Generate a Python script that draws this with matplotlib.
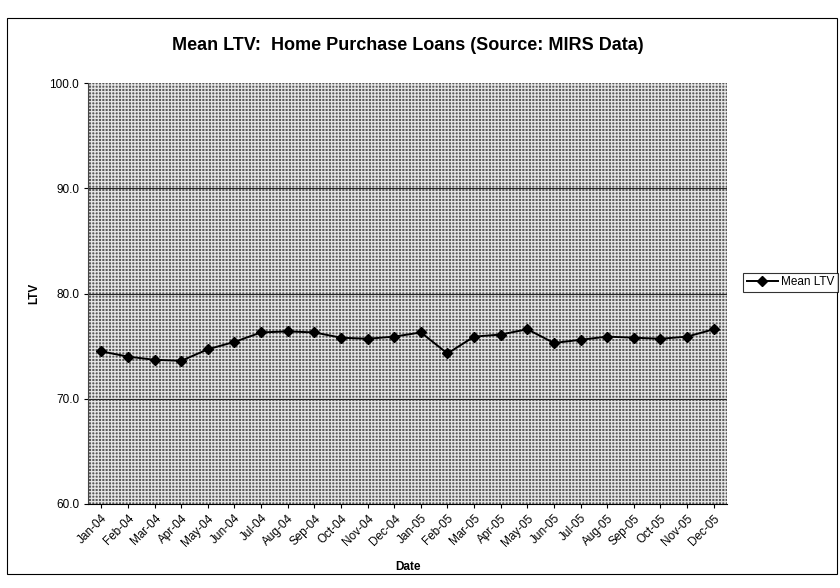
import matplotlib
matplotlib.use("Agg")
import matplotlib.pyplot as plt
from matplotlib.patches import Rectangle

plt.rcParams['font.family'] = ['Liberation Sans', 'DejaVu Sans']
plt.rcParams['hatch.linewidth'] = 0.9

months = ["Jan-04", "Feb-04", "Mar-04", "Apr-04", "May-04", "Jun-04", "Jul-04", "Aug-04",
          "Sep-04", "Oct-04", "Nov-04", "Dec-04", "Jan-05", "Feb-05", "Mar-05", "Apr-05",
          "May-05", "Jun-05", "Jul-05", "Aug-05", "Sep-05", "Oct-05", "Nov-05", "Dec-05"]
mean_ltv = [74.5, 74.0, 73.7, 73.6, 74.7, 75.4, 76.3, 76.4, 76.3, 75.8, 75.7, 75.9,
            76.3, 74.3, 75.9, 76.1, 76.6, 75.3, 75.6, 75.9, 75.8, 75.7, 75.9, 76.6]
y_ticks = [60.0, 70.0, 80.0, 90.0, 100.0]

fig = plt.figure(figsize=(8.4, 5.88), dpi=100)
fig.patch.set_facecolor('white')
ax = fig.add_axes([0.1048, 0.1429, 0.7607, 0.7159])

# plot area background (dithered gray look)
ax.set_facecolor('#5a5a5a')
bg = Rectangle((0, 0), 1, 1, transform=ax.transAxes, facecolor='none',
               edgecolor='#e6e6e6', hatch='+++++', linewidth=0, zorder=0)
ax.add_patch(bg)

x = list(range(len(months)))
ax.plot(x, mean_ltv, color='black', linewidth=1.4, marker='D', markersize=5,
        label='Mean LTV', zorder=3)

ax.set_xlim(-0.5, len(months) - 0.5)
ax.set_ylim(60, 100)
ax.set_yticks(y_ticks)
ax.set_yticklabels([f"{v:.1f}" for v in y_ticks], fontsize=8.5)
ax.set_xticks(x)
ax.set_xticklabels(months, rotation=45, ha='right', rotation_mode='anchor', fontsize=8.5)
ax.tick_params(axis='both', length=3, width=0.8, color='black')
ax.tick_params(axis='x', pad=3)

for v in y_ticks[1:-1]:
    ax.axhline(v, color='#2a2a2a', linewidth=0.8, zorder=1)

for s in ax.spines.values():
    s.set_visible(False)
ax.spines['left'].set_visible(True)
ax.spines['bottom'].set_visible(True)
ax.spines['left'].set_color('#444444')
ax.spines['bottom'].set_color('black')

ax.set_title("Mean LTV:  Home Purchase Loans (Source: MIRS Data)", fontsize=13,
             fontweight='bold', pad=24)
ax.set_xlabel("Date", fontsize=8.5, fontweight='bold')
ax.xaxis.set_label_coords(0.5, -0.135)
ax.set_ylabel("LTV", fontsize=8.5, fontweight='bold')
ax.yaxis.set_label_coords(-0.075, 0.5)

leg = fig.legend(loc='center left', bbox_to_anchor=(0.885, 0.52), fontsize=8.5,
                 frameon=True, fancybox=False, edgecolor='black', handlelength=2.6,
                 borderpad=0.3, handletextpad=0.3, borderaxespad=0)
leg.get_frame().set_linewidth(0.8)

# outer chart border
fig.patches.append(Rectangle((0.008, 0.024), 0.989, 0.945, transform=fig.transFigure,
                             fill=False, edgecolor='black', linewidth=0.8))

fig.savefig("out.png", dpi=100)
